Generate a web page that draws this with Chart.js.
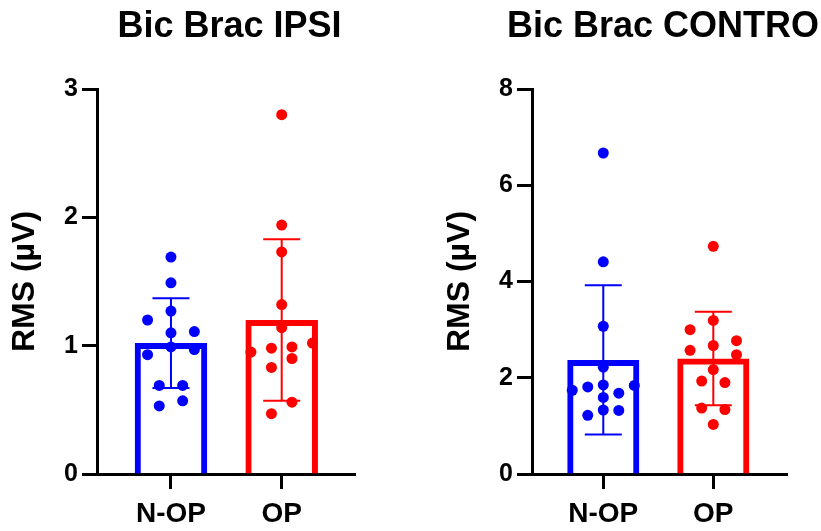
<!DOCTYPE html>
<html><head><meta charset="utf-8">
<script src="https://cdn.jsdelivr.net/npm/chart.js@4"></script>
<style>
html,body{margin:0;padding:0;background:#fff;}
#wrap{position:relative;width:821px;height:531px;overflow:hidden;background:#fff;}
canvas{position:absolute;top:0;}
</style>
</head><body>
<div id="wrap">
<canvas id="c1" width="410" height="531" style="left:0px"></canvas>
<canvas id="c2" width="411" height="531" style="left:410px"></canvas>
</div>
<script>
// ---- data ----
const categories = ['N-OP', 'OP'];
const titles = ['Bic Brac IPSI', 'Bic Brac CONTRO'];
const yAxisTitle = 'RMS (\u00b5V)';

const ipsiNop = [1.69, 1.49, 1.27, 1.20, 1.10, 1.11, 0.99, 0.97, 0.93, 0.69, 0.69, 0.53, 0.57];
const ipsiOp  = [2.80, 1.94, 1.73, 1.32, 1.14, 0.95, 0.98, 0.99, 1.02, 0.90, 0.83, 0.56, 0.47];
const ipsiMean = [1.02, 1.20];
const ipsiSD   = [0.35, 0.63];
const ipsiYTicks = [0, 1, 2, 3];

const controNop = [6.67, 4.41, 3.07, 2.22, 1.74, 1.81, 1.85, 1.84, 1.68, 1.59, 1.33, 1.32, 1.22];
const controOp  = [4.73, 3.19, 3.00, 2.77, 2.57, 2.67, 2.48, 2.17, 1.93, 1.90, 1.37, 1.34, 1.03];
const controMean = [2.37, 2.40];
const controSD   = [1.55, 0.97];
const controYTicks = [0, 2, 4, 6, 8];

// scatter column slots (horizontal jitter of the dots)
const ipsiNopSlots   = [0, 0, 0, -2, 0, 2, 0, 2, -2, -1, 1, -1, 1];
const ipsiOpSlots    = [0, 0, 0, 0, 0, -3, -1, 1, 3, 1, -1, 1, -1];
const controNopSlots = [0, 0, 0, 0, -2, -1, 0, 2, 1, 0, 0, 1, -1];
const controOpSlots  = [0, 0, -2, 2, -2, 0, 2, 0, -1, 1, -1, 1, 0];

// ---- styling ----
const COLORS = ['#0000ff', '#ff0000'];
const FONT = 'Liberation Sans, Arial, Helvetica, sans-serif';

Chart.defaults.font.family = FONT;
Chart.defaults.font.weight = 'bold';
Chart.defaults.color = '#000';

const errorBarPlugin = {
  id: 'errorBars',
  afterDatasetDraw(chart, args) {
    const ds = chart.data.datasets[args.index];
    if (!ds.errorBars) return;
    const xs = chart.scales.x, ys = chart.scales.y, ctx = chart.ctx;
    ctx.save();
    ctx.lineWidth = 2;
    ds.errorBars.mean.forEach((m, i) => {
      const sd = ds.errorBars.sd[i];
      const px = xs.getPixelForValue(i);
      const pt = ys.getPixelForValue(m + sd);
      const pb = ys.getPixelForValue(m - sd);
      ctx.strokeStyle = COLORS[i];
      ctx.beginPath();
      ctx.moveTo(px, pt); ctx.lineTo(px, pb);
      ctx.moveTo(px - 18.5, pt); ctx.lineTo(px + 18.5, pt);
      ctx.moveTo(px - 18.5, pb); ctx.lineTo(px + 18.5, pb);
      ctx.stroke();
    });
    ctx.restore();
  }
};

const panelTitlePlugin = {
  id: 'panelTitle',
  afterDraw(chart, args, opts) {
    const ctx = chart.ctx, a = chart.chartArea;
    ctx.save();
    ctx.font = 'bold 36px ' + FONT;
    ctx.fillStyle = '#000';
    ctx.textAlign = 'center';
    ctx.textBaseline = 'middle';
    ctx.fillText(opts.text, (a.left + a.right) / 2 + 3.5, 27);
    ctx.restore();
  }
};

function makeChart(id, o) {
  const dotSets = o.groups.map((g, ci) => ({
    type: 'scatter',
    data: g.values.map((v, k) => ({ x: ci + g.slots[k] * g.step, y: v })),
    pointRadius: 5.5,
    pointHoverRadius: 5.5,
    pointBackgroundColor: COLORS[ci],
    pointBorderWidth: 0,
    clip: false
  }));
  const barSet = {
    type: 'bar',
    data: o.mean.map((m, i) => ({ x: i, y: m })),
    backgroundColor: 'rgba(255,255,255,0)',
    borderColor: COLORS,
    borderWidth: 6,
    borderSkipped: 'start',
    barPercentage: 0.655,
    categoryPercentage: 1,
    errorBars: { mean: o.mean, sd: o.sd }
  };
  return new Chart(document.getElementById(id), {
    type: 'bar',
    data: { datasets: [...dotSets, barSet] },
    options: {
      responsive: false,
      animation: false,
      events: [],
      layout: { padding: { left: o.padLeft, right: o.padRight, top: 89, bottom: 0 } },
      plugins: {
        legend: { display: false },
        tooltip: { enabled: false },
        title: { display: false },
        panelTitle: { text: o.title }
      },
      scales: {
        x: {
          type: 'linear', min: o.xMin, max: o.xMax, offset: false,
          afterFit(s) { s.height = 57; },
          afterBuildTicks(s) { s.ticks = categories.map((c, i) => ({ value: i })); },
          grid: { display: true, offset: false, drawOnChartArea: false, drawTicks: true, tickLength: 15, tickWidth: 3, tickColor: '#000' },
          border: { display: true, color: '#000', width: 3 },
          ticks: {
            padding: 11, color: '#000', maxRotation: 0, autoSkip: false,
            font: { size: 28, weight: 'bold', lineHeight: 1 },
            callback: (v) => categories[Math.round(v)]
          }
        },
        y: {
          type: 'linear', min: 0, max: o.yTicks[o.yTicks.length - 1],
          afterFit(s) { s.width = 97; },
          afterBuildTicks(s) { s.ticks = o.yTicks.map(v => ({ value: v })); },
          grid: { display: true, drawOnChartArea: false, drawTicks: true, tickLength: 15, tickWidth: 3, tickColor: '#000' },
          border: { display: true, color: '#000', width: 3 },
          ticks: { padding: 4, color: '#000', font: { size: 25, weight: 'bold', lineHeight: 1 } },
          title: {
            display: true, text: yAxisTitle, color: '#000',
            font: { size: 32, weight: 'bold', lineHeight: 1 },
            padding: { top: 9, bottom: 0 }
          }
        }
      }
    },
    plugins: [errorBarPlugin, panelTitlePlugin]
  });
}

makeChart('c1', {
  title: titles[0], mean: ipsiMean, sd: ipsiSD, yTicks: ipsiYTicks,
  padLeft: 0, padRight: 55, xMin: -0.668, xMax: 1.662,
  groups: [
    { values: ipsiNop, slots: ipsiNopSlots, step: 0.1057 },
    { values: ipsiOp, slots: ipsiOpSlots, step: 0.0926 }
  ]
});
makeChart('c2', {
  title: titles[1], mean: controMean, sd: controSD, yTicks: controYTicks,
  padLeft: 25, padRight: 34, xMin: -0.648, xMax: 1.67,
  groups: [
    { values: controNop, slots: controNopSlots, step: 0.141 },
    { values: controOp, slots: controOpSlots, step: 0.1055 }
  ]
});
</script>
</body></html>
